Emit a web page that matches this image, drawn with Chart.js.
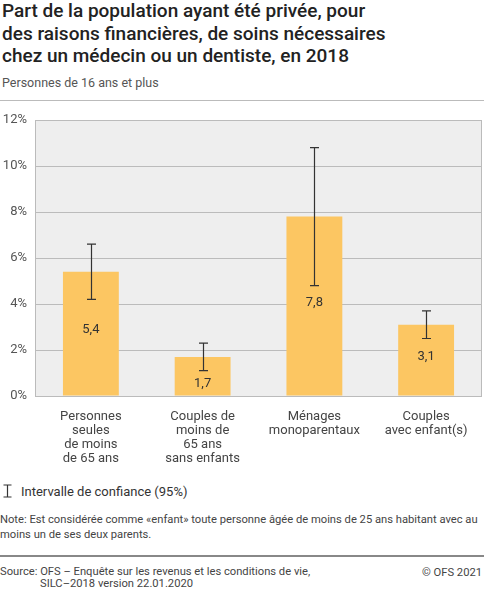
<!DOCTYPE html>
<html>
<head>
<meta charset="utf-8">
<script src="https://cdn.jsdelivr.net/npm/chart.js@4"></script>
<style>
  body { margin: 0; width: 484px; height: 593px; position: relative; font-family: Roboto, sans-serif; background: #fff; overflow: hidden; }
  .abs { position: absolute; }
  #title { left: 2px; top: 0px; font-size: 19px; font-weight: 500; line-height: 22.5px; color: #222; }
  #subtitle { left: 2px; top: 75px; font-size: 12.5px; color: #555; }
  #rule1 { left: 0; top: 100px; width: 484px; height: 1px; background: #bbb; }
  #wrap { left: 0; top: 100px; width: 484px; height: 370px; }
  #legend { left: 2px; top: 484px; font-size: 13px; color: #333; }
  #note { left: 0; top: 512px; font-size: 11.2px; line-height: 15px; color: #444; width: 484px; }
  #rule2 { left: 0; top: 555px; width: 484px; height: 1.5px; background: #888; }
  #source { left: 0; top: 566px; font-size: 11.2px; line-height: 12px; color: #444; }
  #copy { right: 2px; top: 566px; font-size: 11.2px; color: #444; }
</style>
</head>
<body>
<div id="title" class="abs">Part de la population ayant été privée, pour<br>des raisons financières, de soins nécessaires<br>chez un médecin ou un dentiste, en 2018</div>
<div id="subtitle" class="abs">Personnes de 16 ans et plus</div>
<div id="rule1" class="abs"></div>
<div id="wrap" class="abs"><canvas id="myChart"></canvas></div>
<div id="legend" class="abs"><svg width="12" height="14" style="vertical-align:-2px;margin-right:7px"><path d="M1.5 1H9.5M5.5 1V13M1.5 13H9.5" stroke="#333" stroke-width="1.2" fill="none"/></svg>Intervalle de confiance (95%)</div>
<div id="note" class="abs">Note: Est considérée comme «enfant» toute personne âgée de moins de 25 ans habitant avec au<br>moins un de ses deux parents.</div>
<div id="rule2" class="abs"></div>
<div id="source" class="abs">Source: OFS – Enquête sur les revenus et les conditions de vie,<br><span style="padding-left:40px">SILC–2018 version 22.01.2020</span></div>
<div id="copy" class="abs">© OFS 2021</div>
<script>
const categories = [
    ['Personnes', 'seules', 'de moins', 'de 65 ans'],
    ['Couples de', 'moins de', '65 ans', 'sans enfants'],
    ['Ménages', 'monoparentaux'],
    ['Couples', 'avec enfant(s)']
];
const values = [5.4, 1.7, 7.8, 3.1];
const lower = [4.2, 1.1, 4.8, 2.5];
const upper = [6.6, 2.3, 10.8, 3.7];
const yTicks = [0, 2, 4, 6, 8, 10, 12];

// plot background + frame
const plotFrame = {
    id: 'plotFrame',
    beforeDraw(chart) {
        const a = chart.chartArea, ctx = chart.ctx;
        ctx.save();
        ctx.fillStyle = '#eeeeee';
        ctx.fillRect(a.left, a.top, a.right - a.left, a.bottom - a.top);
        ctx.restore();
    },
    afterDraw(chart) {
        const a = chart.chartArea, ctx = chart.ctx;
        ctx.save();
        ctx.strokeStyle = '#bbbbbb';
        ctx.lineWidth = 1;
        ctx.strokeRect(a.left + 0.5, a.top + 0.5, a.right - a.left - 1, a.bottom - a.top);
        ctx.restore();
    }
};

// error bars and value labels
const errorBars = {
    id: 'errorBars',
    afterDatasetsDraw(chart) {
        const ctx = chart.ctx, y = chart.scales.y;
        const meta = chart.getDatasetMeta(0);
        ctx.save();
        meta.data.forEach((bar, i) => {
            const base = y.getPixelForValue(0);
            const yt = y.getPixelForValue(upper[i]);
            const yb = y.getPixelForValue(lower[i]);
            let ly = (y.getPixelForValue(values[i]) + base) / 2 - 4;
            // keep the label clear of the error bar
            if (Math.abs(ly - yb) < 9) ly = (yb + base) / 2;
            ctx.fillStyle = '#333';
            ctx.font = '13px Roboto';
            ctx.textAlign = 'center';
            ctx.textBaseline = 'middle';
            ctx.fillText(values[i].toFixed(1).replace('.', ','), bar.x, ly);

            const x = Math.round(bar.x) + 0.5;
            ctx.strokeStyle = '#333';
            ctx.lineWidth = 1.2;
            ctx.beginPath();
            ctx.moveTo(x, yt); ctx.lineTo(x, yb);
            ctx.moveTo(x - 4.5, yt); ctx.lineTo(x + 4.5, yt);
            ctx.moveTo(x - 4.5, yb); ctx.lineTo(x + 4.5, yb);
            ctx.stroke();
        });
        ctx.restore();
    }
};

const ctx = document.getElementById('myChart').getContext('2d');
const myChart = new Chart(ctx, {
    type: 'bar',
    data: {
        labels: categories,
        datasets: [{
            data: values,
            backgroundColor: '#fcc662',
            barPercentage: 0.5,
            categoryPercentage: 1.0
        }]
    },
    plugins: [plotFrame, errorBars],
    options: {
        responsive: true,
        maintainAspectRatio: false,
        animation: false,
        layout: { padding: { top: 20, right: 2, left: 0, bottom: 0 } },
        plugins: { legend: { display: false }, tooltip: { enabled: false } },
        scales: {
            x: {
                grid: { display: false },
                border: { display: false },
                ticks: { color: '#444', font: { family: 'Roboto', size: 13, lineHeight: 1.08 }, padding: 6, maxRotation: 0 },
                afterFit(scale) { scale.height = 74; }
            },
            y: {
                min: 0, max: 12,
                afterBuildTicks(scale) { scale.ticks = yTicks.map(v => ({ value: v })); },
                grid: { color: '#bbbbbb', lineWidth: 1, drawTicks: false },
                border: { display: false },
                ticks: { color: '#555', font: { family: 'Roboto', size: 13 }, padding: 8, callback: v => v + '%' },
                afterFit(scale) { scale.width = 35; }
            }
        }
    }
});
</script>
</body>
</html>
